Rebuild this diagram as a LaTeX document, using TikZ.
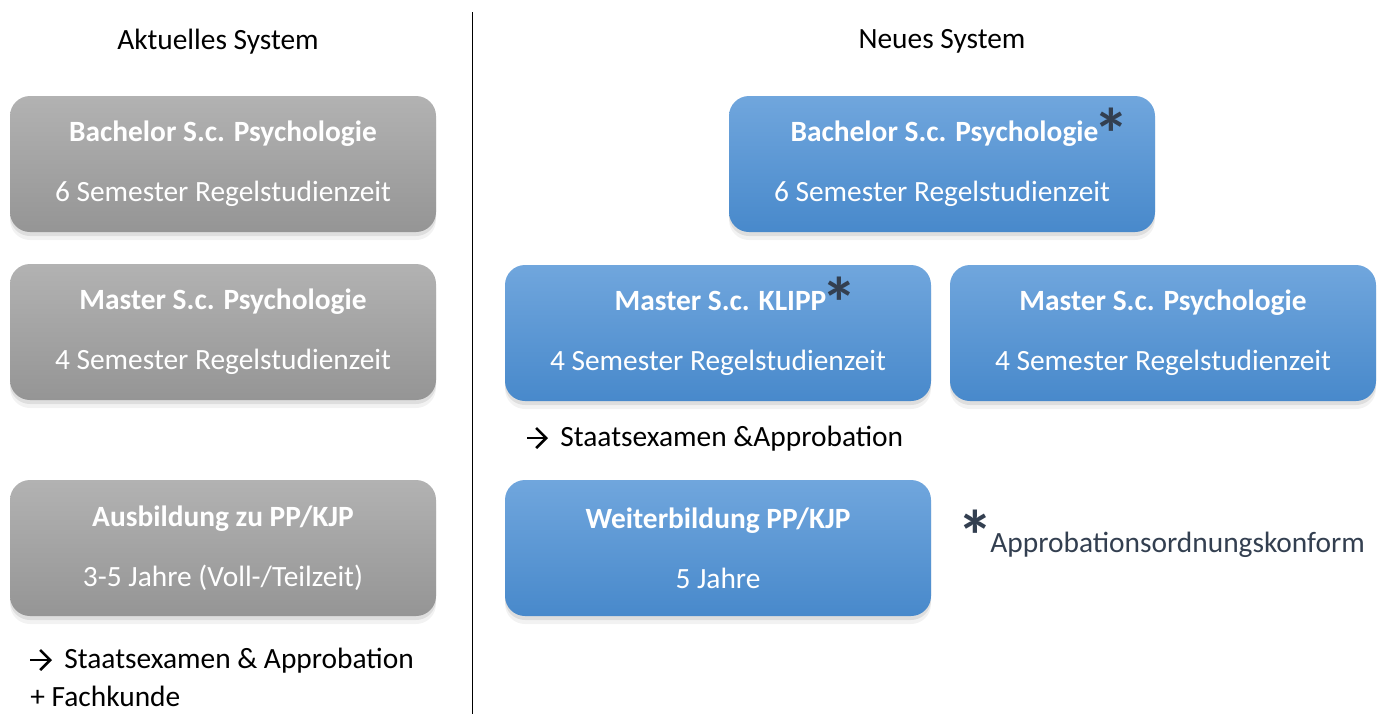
\documentclass[tikz,border=0pt]{standalone}
\usepackage{fontspec}
\setmainfont{Carlito}
\usetikzlibrary{shadows,arrows.meta}

\definecolor{oldtop}{HTML}{B2B2B2}
\definecolor{oldbot}{HTML}{959595}
\definecolor{newtop}{HTML}{70A6DD}
\definecolor{newbot}{HTML}{4889CB}
\definecolor{starcol}{HTML}{333F50}

\newcommand{\sternchen}{{\fontsize{36}{36}\selectfont\bfseries *}}
\newcommand{\stern}{\kern-2.5pt\rlap{\smash{\raisebox{-9pt}{\color{starcol}\sternchen}}}}

\begin{document}
\begin{tikzpicture}[x=0.5pt, y=-0.5pt, font=\fontsize{14.7}{17.6}\selectfont,
    old/.style = {rounded corners=10pt, minimum width=213pt, minimum height=68pt, inner sep=0pt, align=center, text=white, top color=oldtop, bottom color=oldbot,
        drop shadow={shadow xshift=0pt, shadow yshift=-2pt, opacity=.18},
        drop shadow={shadow xshift=0pt, shadow yshift=-4pt, opacity=.10}},
    new/.style = {old, top color=newtop, bottom color=newbot},
    note/.style = {anchor=base west, inner sep=0pt},
    pfeil/.style = {line width=1.3pt, -{Straight Barb[length=5pt, width=10pt, line width=1.3pt]}}]
    \useasboundingbox (0,0) rectangle (1386,714);

    % headings and divider
    \node (hold) at (218,42) {Aktuelles System};
    \node (hnew) at (942,41) {Neues System};
    \draw[thin] (472,12) -- (472,714);

    % current system
    \node[old] (ob) at (223,164) {\textbf{Bachelor S.c. Psychologie}\\[12.4pt]6 Semester Regelstudienzeit};
    \node[old] (om) at (223,332) {\textbf{Master S.c. Psychologie}\\[12.4pt]4 Semester Regelstudienzeit};
    \node[old] (oa) at (223,548) {\textbf{Ausbildung zu PP/KJP}\\[12.4pt]3-5 Jahre (Voll-/Teilzeit)};
    \coordinate (oa0) at (30,660);
    \node[note] (oe) at (64,668) {Staatsexamen \& Approbation};
    \node[note] (of) at (30,706) {+ Fachkunde};
    \draw[pfeil] (oa0) -- ([xshift=-6pt, yshift=4pt]oe.base west);

    % new system
    \node[new] (nb) at (942,164) {\textbf{Bachelor S.c. Psychologie\stern}\\[12.4pt]6 Semester Regelstudienzeit};
    \node[new] (nk) at (718,333) {\textbf{Master S.c. KLIPP\stern}\\[12.4pt]4 Semester Regelstudienzeit};
    \node[new] (np) at (1163,333) {\textbf{Master S.c. Psychologie}\\[12.4pt]4 Semester Regelstudienzeit};
    \coordinate (ne0) at (527,438);
    \node[note] (ne) at (560,446) {Staatsexamen \&Approbation};
    \draw[pfeil] (ne0) -- ([xshift=-6pt, yshift=4pt]ne.base west);
    \node[new] (nw) at (718,548) {\textbf{Weiterbildung PP/KJP}\\[12.4pt]5 Jahre};

    % footnote
    \node[note, text=starcol] (fs) at (957,561) {\sternchen};
    \node[note, text=starcol] (ft) at (990,552) {Approbationsordnungskonform};
\end{tikzpicture}
\end{document}
